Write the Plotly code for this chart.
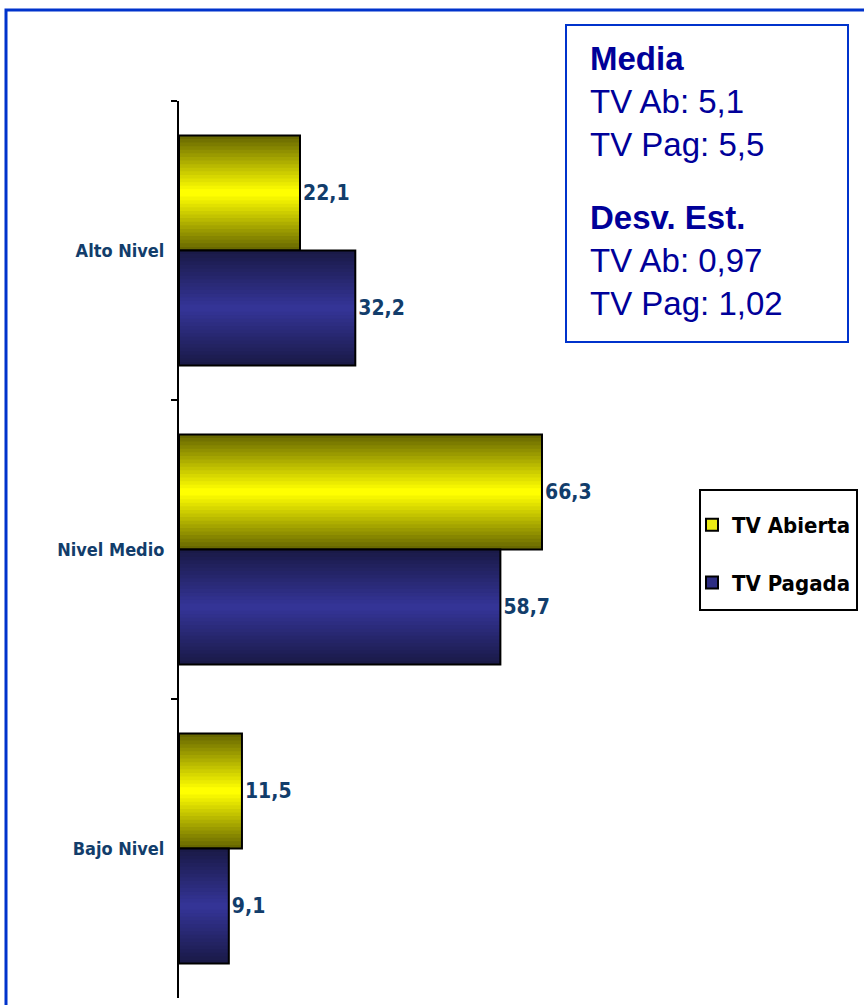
import plotly.graph_objects as go

# ---- data ----
categories = ["Alto Nivel", "Nivel Medio", "Bajo Nivel"]
tv_abierta = [22.1, 66.3, 11.5]
tv_pagada = [32.2, 58.7, 9.1]
series_names = ["TV Abierta", "TV Pagada"]
media_labels = ["TV Ab", "TV Pag"]
media_values = ["5,1", "5,5"]
desv_values = ["0,97", "1,02"]

# ---- layout geometry (pixels) ----
W, H = 864, 1005
ML, MT, MB = 179, 101, 7
MR = 4
PW = W - ML - MR
PH = H - MT - MB
PX_PER_UNIT = 5.475
XMAX = PW / PX_PER_UNIT


def px(xp):
    return (xp - ML) / PW


def py(yp):
    return (MT + PH - yp) / PH


BAR_H = 0.385  # bar thickness in category units
N_LAYERS = 16


def lerp(c1, c2, t):
    return "rgb(%d,%d,%d)" % tuple(round(a + (b - a) * t) for a, b in zip(c1, c2))


styles = [
    dict(vals=tv_abierta, dark=(104, 104, 0), bright=(255, 255, 0), center=-BAR_H / 2,
         legend="rgb(235,235,20)"),
    dict(vals=tv_pagada, dark=(26, 26, 72), bright=(52, 52, 150), center=BAR_H / 2,
         legend="rgb(45,45,130)"),
]

COND = "DejaVu Sans Condensed, Liberation Sans Narrow, Arial Narrow, sans-serif"
label_font = dict(family=COND, size=21, color="#123d6b", weight="bold")

fig = go.Figure()
for s, name in zip(styles, series_names):
    # gradient built from nested bars of decreasing thickness
    for i in range(N_LAYERS):
        wi = BAR_H * (1 - i / N_LAYERS)
        t = i / (N_LAYERS - 1)
        fig.add_trace(go.Bar(
            y=categories, x=s["vals"], orientation="h",
            width=wi, offset=s["center"] - wi / 2,
            marker=dict(color=lerp(s["dark"], s["bright"], t), line=dict(width=0)),
            showlegend=False, hoverinfo="skip",
        ))
    # outline + value labels
    fig.add_trace(go.Bar(
        y=categories, x=s["vals"], orientation="h",
        width=BAR_H, offset=s["center"] - BAR_H / 2,
        marker=dict(color="rgba(0,0,0,0)", line=dict(color="black", width=2)),
        text=[("%.1f" % v).replace(".", ",") for v in s["vals"]],
        textposition="outside", textfont=label_font, cliponaxis=False,
        showlegend=False, hoverinfo="skip",
    ))

# legend entries
for s, name, grp in zip(styles, series_names, ["a", "b"]):
    fig.add_trace(go.Bar(
        y=[None], x=[None], orientation="h", name=name, legendgroup=grp,
        marker=dict(color=s["legend"], line=dict(color="black", width=2)),
    ))

frame_blue = "#0033cc"
text_blue = "#000099"

media_text = "<b>Media</b><br>" + "<br>".join(
    "%s: %s" % (l, v) for l, v in zip(media_labels, media_values))
desv_text = "<b>Desv. Est.</b><br>" + "<br>".join(
    "%s: %s" % (l, v) for l, v in zip(media_labels, desv_values))

fig.update_layout(
    width=W, height=H,
    margin=dict(l=ML, r=MR, t=MT, b=MB),
    paper_bgcolor="white", plot_bgcolor="white",
    barmode="overlay",
    xaxis=dict(range=[0, XMAX], visible=False, fixedrange=True),
    yaxis=dict(
        type="category", categoryorder="array", categoryarray=categories,
        range=[2.5, -0.5], fixedrange=True,
        showline=True, linecolor="black", linewidth=2,
        ticks="outside", tickson="boundaries", ticklen=6, tickwidth=2, tickcolor="black",
        showgrid=False, zeroline=False,
        tickfont=dict(family=COND, size=18, color="#123d6b", weight="bold"),
        ticklabelstandoff=9,
    ),
    showlegend=True,
    legend=dict(
        x=px(692), y=py(504), xanchor="left", yanchor="top",
        borderwidth=0, bgcolor="rgba(0,0,0,0)",
        font=dict(family=COND, size=22, color="black", weight="bold"),
        traceorder="grouped", tracegroupgap=26, itemwidth=30,
    ),
    shapes=[
        dict(type="rect", xref="paper", yref="paper",
             x0=px(6), x1=px(W + 20), y0=py(H + 20), y1=py(10),
             line=dict(color=frame_blue, width=3), fillcolor="rgba(0,0,0,0)", layer="below"),
        dict(type="rect", xref="paper", yref="paper",
             x0=px(566), x1=px(848), y0=py(342), y1=py(25),
             line=dict(color=frame_blue, width=2), fillcolor="white"),
        dict(type="rect", xref="paper", yref="paper",
             x0=px(700), x1=px(857), y0=py(610), y1=py(490),
             line=dict(color="black", width=2), fillcolor="white", layer="below"),
    ],
    annotations=[
        dict(text=media_text, xref="paper", yref="paper", x=px(588), y=py(38),
             xanchor="left", yanchor="top", align="left", showarrow=False,
             font=dict(family="Liberation Sans, Arial, sans-serif", size=33, color=text_blue)),
        dict(text=desv_text, xref="paper", yref="paper", x=px(588), y=py(197),
             xanchor="left", yanchor="top", align="left", showarrow=False,
             font=dict(family="Liberation Sans, Arial, sans-serif", size=33, color=text_blue)),
    ],
)

fig.write_html("out.html",
               config={"displayModeBar": False, "staticPlot": True},
               post_script="document.body.style.margin='0';document.body.style.overflow='hidden';")
